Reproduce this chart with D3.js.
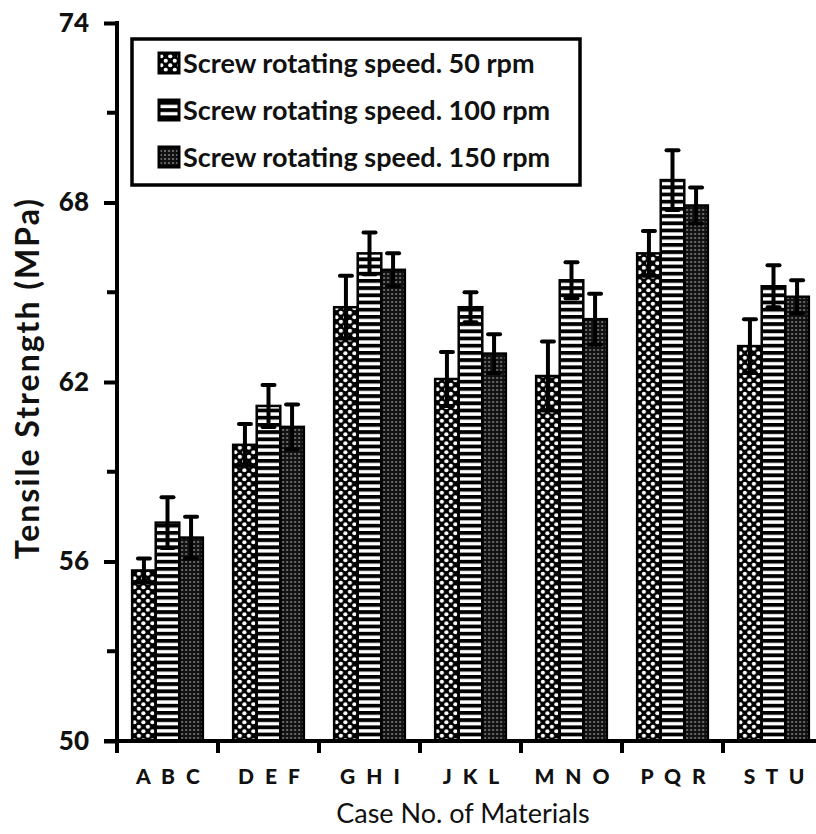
<!DOCTYPE html>
<html>
<head>
<meta charset="utf-8">
<script src="https://cdn.jsdelivr.net/npm/d3@7"></script>
<style>
  body { margin: 0; background: #fff; }
  text { font-family: Lato, "Open Sans", sans-serif; }
</style>
</head>
<body>
<svg id="chart"></svg>
<script>
const groups = ["A B C", "D E F", "G H I", "J K L", "M N O", "P Q R", "S T U"];
const seriesNames = [
  "Screw rotating speed. 50 rpm",
  "Screw rotating speed. 100 rpm",
  "Screw rotating speed. 150 rpm"
];
const speed50 = [55.7, 59.9, 64.5, 62.1, 62.2, 66.3, 63.2];
const speed100 = [57.3, 61.2, 66.3, 64.5, 65.4, 68.75, 65.2];
const speed150 = [56.8, 60.5, 65.75, 62.95, 64.1, 67.9, 64.85];
const err50 = [0.4, 0.7, 1.05, 0.9, 1.15, 0.75, 0.9];
const err100 = [0.85, 0.7, 0.7, 0.5, 0.6, 1.0, 0.7];
const err150 = [0.7, 0.75, 0.55, 0.65, 0.85, 0.6, 0.55];
const yTicks = [50, 56, 62, 68, 74];
const yMinor = [53, 59, 65, 71];

const W = 816, H = 834;
const margin = { top: 23, left: 117, bottom: 93 };
const plotRight = 117 + 7 * 101;

const svg = d3.select("#chart").attr("width", W).attr("height", H);

const values = [speed50, speed100, speed150];
const errors = [err50, err100, err150];
const rows = groups.map((g, i) => ({
  group: g,
  bars: values.map((s, k) => ({ k, v: s[i], e: errors[k][i] }))
}));

const x = d3.scaleBand().domain(groups).range([margin.left, plotRight])
  .paddingInner(0.3).paddingOuter(0.15);
const x1 = d3.scaleBand().domain([0, 1, 2]).range([0, x.bandwidth()]);
const y = d3.scaleLinear().domain([50, 74]).range([H - margin.bottom, margin.top]);

// patterns
const defs = svg.append("defs");
const p0 = defs.append("pattern").attr("id", "pat0").attr("patternUnits", "userSpaceOnUse")
  .attr("width", 9).attr("height", 9);
p0.append("rect").attr("width", 9).attr("height", 9).attr("fill", "#000");
p0.append("circle").attr("cx", 2.25).attr("cy", 2.25).attr("r", 2.1).attr("fill", "#fff");
p0.append("circle").attr("cx", 6.75).attr("cy", 6.75).attr("r", 2.1).attr("fill", "#fff");

const p1 = defs.append("pattern").attr("id", "pat1").attr("patternUnits", "userSpaceOnUse")
  .attr("width", 10).attr("height", 7.2);
p1.append("rect").attr("width", 10).attr("height", 7.2).attr("fill", "#000");
p1.append("rect").attr("y", 2).attr("width", 10).attr("height", 3.4).attr("fill", "#fff");

const p2 = defs.append("pattern").attr("id", "pat2").attr("patternUnits", "userSpaceOnUse")
  .attr("width", 4).attr("height", 4);
p2.append("rect").attr("width", 4).attr("height", 4).attr("fill", "#111");
p2.append("circle").attr("cx", 2).attr("cy", 2).attr("r", 1.1).attr("fill", "#7a7a7a");

// bars
const g = svg.selectAll("g.grp").data(rows).join("g").attr("class", "grp")
  .attr("transform", (d) => `translate(${x(d.group)},0)`);

g.selectAll("rect").data((d) => d.bars).join("rect")
  .attr("x", (d) => x1(d.k))
  .attr("y", (d) => y(d.v))
  .attr("width", x1.bandwidth())
  .attr("height", (d) => y(50) - y(d.v))
  .attr("fill", (d) => `url(#pat${d.k})`)
  .attr("stroke", "#000")
  .attr("stroke-width", 2.5);

// error bars
const eb = g.selectAll("g.err").data((d) => d.bars).join("g").attr("class", "err")
  .attr("transform", (d) => `translate(${x1(d.k) + x1.bandwidth() / 2},0)`);
eb.append("line").attr("y1", (d) => y(d.v - d.e)).attr("y2", (d) => y(d.v + d.e))
  .attr("stroke", "#000").attr("stroke-width", 4);
eb.append("line").attr("x1", -6).attr("x2", 6)
  .attr("y1", (d) => y(d.v + d.e)).attr("y2", (d) => y(d.v + d.e))
  .attr("stroke", "#000").attr("stroke-width", 4).attr("stroke-linecap", "round");
eb.append("line").attr("x1", -6).attr("x2", 6)
  .attr("y1", (d) => y(d.v - d.e)).attr("y2", (d) => y(d.v - d.e))
  .attr("stroke", "#000").attr("stroke-width", 4).attr("stroke-linecap", "round");

// y axis
const yAxis = svg.append("g").attr("transform", `translate(${margin.left},0)`)
  .call(d3.axisLeft(y).tickValues(yTicks).tickSize(13).tickPadding(15));
yAxis.select(".domain").attr("d", `M0,${margin.top - 2}V${y(50) + 11}`)
  .attr("stroke", "#000").attr("stroke-width", 4);
yAxis.selectAll(".tick line").attr("stroke-width", 4);
yAxis.selectAll(".tick text").attr("font-size", 26).attr("font-weight", "900")
  .attr("fill", "#111");
svg.append("g").selectAll("line").data(yMinor).join("line")
  .attr("x1", margin.left - 10).attr("x2", margin.left)
  .attr("y1", (d) => y(d)).attr("y2", (d) => y(d))
  .attr("stroke", "#000").attr("stroke-width", 4);

// x axis
svg.append("line").attr("x1", margin.left - 13).attr("x2", W)
  .attr("y1", y(50)).attr("y2", y(50)).attr("stroke", "#000").attr("stroke-width", 4);
svg.append("g").selectAll("line").data(groups).join("line")
  .attr("x1", (d) => x(d) - x.step() * x.paddingInner() / 2)
  .attr("x2", (d) => x(d) - x.step() * x.paddingInner() / 2)
  .attr("y1", y(50)).attr("y2", y(50) + 12)
  .attr("stroke", "#000").attr("stroke-width", 4);
svg.append("g").selectAll("text").data(groups).join("text")
  .attr("x", (d) => x(d) + x.bandwidth() / 2 + 2)
  .attr("y", y(50) + 43)
  .attr("text-anchor", "middle")
  .attr("font-size", 21).attr("font-weight", "900")
  .attr("letter-spacing", 3).attr("fill", "#111")
  .text((d) => d);

// axis titles
svg.append("text")
  .attr("transform", `translate(39,${378}) rotate(-90)`)
  .attr("text-anchor", "middle")
  .attr("font-size", 32).attr("font-weight", "bold").attr("fill", "#111")
  .attr("letter-spacing", 2)
  .text("Tensile Strength (MPa)");
svg.append("text")
  .attr("x", 463).attr("y", 823)
  .attr("text-anchor", "middle")
  .attr("font-size", 27).attr("fill", "#111")
  .text("Case No. of Materials");

// legend
const lg = svg.append("g").attr("transform", "translate(132,39)");
lg.append("rect").attr("width", 448).attr("height", 146)
  .attr("fill", "#fff").attr("stroke", "#000").attr("stroke-width", 3.5);
const items = lg.selectAll("g.item").data(seriesNames).join("g").attr("class", "item")
  .attr("transform", (d, i) => `translate(27,${24 + i * 47})`);
items.append("rect").attr("y", -10).attr("width", 20).attr("height", 20)
  .attr("fill", (d, i) => `url(#pat${i})`).attr("stroke", "#000").attr("stroke-width", 3);
items.append("text").attr("x", 24).attr("y", 10)
  .attr("font-size", 27).attr("font-weight", "bold").attr("fill", "#111")
  .text((d) => d);
</script>
</body>
</html>
